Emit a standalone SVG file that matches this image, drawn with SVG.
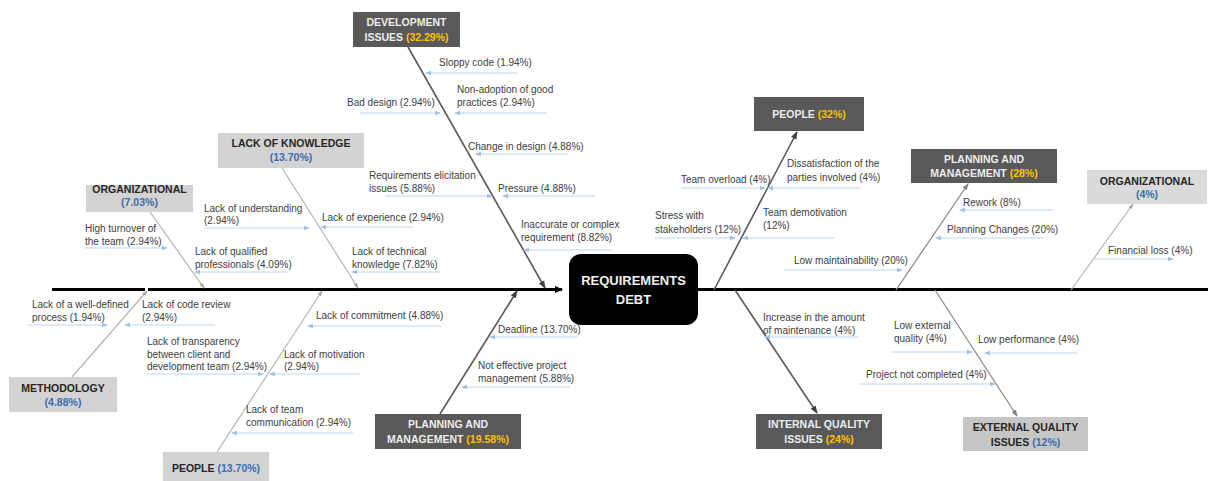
<svg xmlns="http://www.w3.org/2000/svg" width="1208" height="481" viewBox="0 0 1208 481">
  <defs>
    <style>
      .lbl { font-family: "Liberation Sans", Arial, sans-serif; font-size: 10px; fill: #404040; }
      .ttl { font-family: "Liberation Sans", Arial, sans-serif; font-size: 10.5px; font-weight: bold; text-anchor: middle; }
      .dk rect { fill: #595959; }
      .dk .ttl { fill: #ededed; }
      .lt rect { fill: #d3d3d3; }
      .lt .ttl { fill: #262626; }
      .ttl .gold { fill: #ffc000; }
      .ttl.blue, .ttl .blue { fill: #3b6db0; }
      .sub { stroke: #bdd7ee; stroke-width: 1; fill: none; marker-end: url(#ah-sub); }
      .cat-dk { stroke: #595959; stroke-width: 1.6; marker-end: url(#ah-dk); }
      .cat-md { stroke: #8c8c8c; stroke-width: 1.3; marker-end: url(#ah-md); }
      .cat-lt { stroke: #b4b4b4; stroke-width: 1.2; marker-end: url(#ah-lt); }
      .spine { stroke: #000; stroke-width: 3; }
    </style>
    <marker id="ah-sub" markerWidth="6" markerHeight="6" refX="5" refY="3" orient="auto" markerUnits="userSpaceOnUse">
      <path d="M0,0.8 L6,3 L0,5.2 z" fill="#9dc3e6"/>
    </marker>
    <marker id="ah-dk" markerWidth="8" markerHeight="8" refX="7" refY="4" orient="auto" markerUnits="userSpaceOnUse">
      <path d="M0,1 L8,4 L0,7 z" fill="#404040"/>
    </marker>
    <marker id="ah-md" markerWidth="7" markerHeight="7" refX="6" refY="3.5" orient="auto" markerUnits="userSpaceOnUse">
      <path d="M0,1 L7,3.5 L0,6 z" fill="#808080"/>
    </marker>
    <marker id="ah-lt" markerWidth="6" markerHeight="6" refX="5" refY="3" orient="auto" markerUnits="userSpaceOnUse">
      <path d="M0,1 L6,3 L0,5 z" fill="#a6a6a6"/>
    </marker>
    <marker id="ah-spine" markerWidth="8" markerHeight="8" refX="7" refY="4" orient="auto" markerUnits="userSpaceOnUse">
      <path d="M0,0.5 L8,4 L0,7.5 z" fill="#000"/>
    </marker>
  </defs>

  <rect width="1208" height="481" fill="#ffffff"/>

  <!-- backbone, category bones and cause arrows -->
  <g id="connectors">
    <line class="spine" x1="52" y1="289.5" x2="145" y2="289.5"/>
    <line class="spine" x1="148" y1="289.5" x2="562" y2="289.5" marker-end="url(#ah-spine)"/>
    <line class="spine" x1="698" y1="289.5" x2="1208" y2="289.5"/>

    <line class="cat-dk" x1="408" y1="47" x2="545" y2="288"/>
    <line class="cat-lt" x1="282" y1="168" x2="358" y2="288"/>
    <line class="cat-lt" x1="150" y1="212" x2="204" y2="288"/>
    <line class="cat-lt" x1="72" y1="377" x2="147" y2="291"/>
    <line class="cat-lt" x1="217" y1="452" x2="322" y2="291"/>
    <line class="cat-dk" x1="440" y1="414" x2="517" y2="291"/>
    <line class="cat-dk" x1="714" y1="290" x2="797" y2="132"/>
    <line class="cat-md" x1="896" y1="290" x2="968" y2="184"/>
    <line class="cat-lt" x1="1071" y1="290" x2="1133" y2="204"/>
    <line class="cat-dk" x1="735" y1="290" x2="817" y2="413"/>
    <line class="cat-md" x1="935" y1="290" x2="1017" y2="416"/>

    <line class="sub" x1="517" y1="73" x2="426" y2="73"/>
    <line class="sub" x1="360" y1="113" x2="440" y2="113"/>
    <line class="sub" x1="547" y1="113" x2="455" y2="113"/>
    <line class="sub" x1="568" y1="154" x2="476" y2="154"/>
    <line class="sub" x1="385" y1="196" x2="492" y2="196"/>
    <line class="sub" x1="595" y1="196" x2="503" y2="196"/>
    <line class="sub" x1="612" y1="250" x2="524" y2="250"/>
    <line class="sub" x1="204" y1="228" x2="309" y2="228"/>
    <line class="sub" x1="413" y1="227" x2="321" y2="227"/>
    <line class="sub" x1="440" y1="272" x2="352" y2="272"/>
    <line class="sub" x1="287" y1="272" x2="195" y2="272"/>
    <line class="sub" x1="85" y1="248" x2="167" y2="248"/>
    <line class="sub" x1="28" y1="325" x2="107" y2="325"/>
    <line class="sub" x1="215" y1="325" x2="125" y2="325"/>
    <line class="sub" x1="147" y1="374" x2="263" y2="374"/>
    <line class="sub" x1="360" y1="374" x2="270" y2="374"/>
    <line class="sub" x1="442" y1="326" x2="308" y2="326"/>
    <line class="sub" x1="353" y1="433" x2="232" y2="433"/>
    <line class="sub" x1="578" y1="337" x2="490" y2="337"/>
    <line class="sub" x1="570" y1="387" x2="462" y2="387"/>
    <line class="sub" x1="860" y1="188" x2="768" y2="188"/>
    <line class="sub" x1="681" y1="188" x2="765" y2="188"/>
    <line class="sub" x1="834" y1="238" x2="743" y2="238"/>
    <line class="sub" x1="655" y1="238" x2="735" y2="238"/>
    <line class="sub" x1="784" y1="270" x2="902" y2="270"/>
    <line class="sub" x1="1053" y1="210" x2="960" y2="210"/>
    <line class="sub" x1="1043" y1="238" x2="936" y2="238"/>
    <line class="sub" x1="1093" y1="259" x2="1173" y2="259"/>
    <line class="sub" x1="859" y1="337" x2="765" y2="337"/>
    <line class="sub" x1="892" y1="352" x2="972" y2="352"/>
    <line class="sub" x1="1077" y1="353" x2="985" y2="353"/>
    <line class="sub" x1="860" y1="384" x2="995" y2="384"/>
  </g>

  <!-- effect -->
  <g id="requirements-debt">
    <rect x="569" y="254" width="129" height="71" rx="12" fill="#000"/>
    <text x="633.5" y="285" font-family="Liberation Sans, Arial, sans-serif" font-size="13" font-weight="bold" fill="#f2f2f2" text-anchor="middle">REQUIREMENTS</text>
    <text x="633.5" y="304" font-family="Liberation Sans, Arial, sans-serif" font-size="13" font-weight="bold" fill="#f2f2f2" text-anchor="middle">DEBT</text>
  </g>

  <!-- causes: left side -->
  <g id="development-issues" class="dk">
    <rect x="353" y="12" width="107" height="35"/>
    <text class="ttl" x="406.5" y="26">DEVELOPMENT</text>
    <text class="ttl" x="406.5" y="41">ISSUES <tspan class="gold">(32.29%)</tspan></text>
  </g>
  <g id="development-causes">
    <text class="lbl" x="439" y="66">Sloppy code (1.94%)</text>
    <text class="lbl" x="347" y="106">Bad design (2.94%)</text>
    <text class="lbl" x="457" y="93">Non-adoption of good</text>
    <text class="lbl" x="457" y="106">practices (2.94%)</text>
    <text class="lbl" x="468" y="150">Change in design (4.88%)</text>
    <text class="lbl" x="369" y="179">Requirements elicitation</text>
    <text class="lbl" x="369" y="192">issues (5.88%)</text>
    <text class="lbl" x="498" y="192">Pressure (4.88%)</text>
    <text class="lbl" x="521" y="228">Inaccurate or complex</text>
    <text class="lbl" x="521" y="241">requirement (8.82%)</text>
  </g>

  <g id="lack-of-knowledge" class="lt">
    <rect x="218" y="133" width="146" height="35"/>
    <text class="ttl" x="291" y="147">LACK OF KNOWLEDGE</text>
    <text class="ttl blue" x="291" y="161">(13.70%)</text>
  </g>
  <g id="knowledge-causes">
    <text class="lbl" x="204" y="212">Lack of understanding</text>
    <text class="lbl" x="204" y="224">(2.94%)</text>
    <text class="lbl" x="322" y="221">Lack of experience (2.94%)</text>
    <text class="lbl" x="352" y="255">Lack of technical</text>
    <text class="lbl" x="352" y="268">knowledge (7.82%)</text>
  </g>

  <g id="organizational-left" class="lt">
    <rect x="86" y="185" width="107" height="27"/>
    <text class="ttl" x="139.5" y="193">ORGANIZATIONAL</text>
    <text class="ttl blue" x="139.5" y="206">(7.03%)</text>
  </g>
  <g id="organizational-causes">
    <text class="lbl" x="85" y="232">High turnover of</text>
    <text class="lbl" x="85" y="245">the team (2.94%)</text>
    <text class="lbl" x="195" y="255">Lack of qualified</text>
    <text class="lbl" x="195" y="268">professionals (4.09%)</text>
  </g>

  <g id="methodology" class="lt">
    <rect x="9" y="377" width="108" height="35"/>
    <text class="ttl" x="63" y="392">METHODOLOGY</text>
    <text class="ttl blue" x="63" y="406">(4.88%)</text>
  </g>
  <g id="methodology-causes">
    <text class="lbl" x="32" y="308">Lack of a well-defined</text>
    <text class="lbl" x="32" y="321">process (1.94%)</text>
    <text class="lbl" x="142" y="308">Lack of code review</text>
    <text class="lbl" x="142" y="321">(2.94%)</text>
  </g>

  <g id="people-left" class="lt">
    <rect x="163" y="452" width="106" height="32"/>
    <text class="ttl" x="216" y="472">PEOPLE <tspan class="blue">(13.70%)</tspan></text>
  </g>
  <g id="people-left-causes">
    <text class="lbl" x="147" y="345">Lack of transparency</text>
    <text class="lbl" x="147" y="358">between client and</text>
    <text class="lbl" x="147" y="370">development team (2.94%)</text>
    <text class="lbl" x="284" y="358">Lack of motivation</text>
    <text class="lbl" x="284" y="370">(2.94%)</text>
    <text class="lbl" x="316" y="319">Lack of commitment (4.88%)</text>
    <text class="lbl" x="246" y="413">Lack of team</text>
    <text class="lbl" x="246" y="426">communication (2.94%)</text>
  </g>

  <g id="planning-left" class="dk">
    <rect x="375" y="414" width="146" height="35"/>
    <text class="ttl" x="448" y="428">PLANNING AND</text>
    <text class="ttl" x="448" y="443">MANAGEMENT <tspan class="gold">(19.58%)</tspan></text>
  </g>
  <g id="planning-left-causes">
    <text class="lbl" x="498" y="333">Deadline (13.70%)</text>
    <text class="lbl" x="478" y="369">Not effective project</text>
    <text class="lbl" x="478" y="382">management (5.88%)</text>
  </g>

  <!-- consequences: right side -->
  <g id="people-right" class="dk">
    <rect x="754" y="97" width="110" height="34"/>
    <text class="ttl" x="809" y="118">PEOPLE <tspan class="gold">(32%)</tspan></text>
  </g>
  <g id="people-right-effects">
    <text class="lbl" x="787" y="167">Dissatisfaction of the</text>
    <text class="lbl" x="787" y="181">parties involved (4%)</text>
    <text class="lbl" x="681" y="183">Team overload (4%)</text>
    <text class="lbl" x="763" y="216">Team demotivation</text>
    <text class="lbl" x="763" y="229">(12%)</text>
    <text class="lbl" x="655" y="219">Stress with</text>
    <text class="lbl" x="655" y="233">stakeholders (12%)</text>
    <text class="lbl" x="794" y="264">Low maintainability (20%)</text>
  </g>

  <g id="planning-right" class="dk">
    <rect x="911" y="149" width="146" height="34"/>
    <text class="ttl" x="984" y="163">PLANNING AND</text>
    <text class="ttl" x="984" y="177">MANAGEMENT <tspan class="gold">(28%)</tspan></text>
  </g>
  <g id="planning-right-effects">
    <text class="lbl" x="963" y="206">Rework (8%)</text>
    <text class="lbl" x="947" y="233">Planning Changes (20%)</text>
  </g>

  <g id="organizational-right" class="lt">
    <rect x="1087" y="170" width="120" height="34" style="fill:#dadada"/>
    <text class="ttl" x="1147" y="185">ORGANIZATIONAL</text>
    <text class="ttl blue" x="1147" y="198">(4%)</text>
  </g>
  <g id="organizational-right-effects">
    <text class="lbl" x="1108" y="254">Financial loss (4%)</text>
  </g>

  <g id="internal-quality" class="dk">
    <rect x="756" y="414" width="126" height="35"/>
    <text class="ttl" x="819" y="428">INTERNAL QUALITY</text>
    <text class="ttl" x="819" y="443">ISSUES <tspan class="gold">(24%)</tspan></text>
  </g>
  <g id="internal-quality-effects">
    <text class="lbl" x="763" y="321">Increase in the amount</text>
    <text class="lbl" x="763" y="334">of maintenance (4%)</text>
  </g>

  <g id="external-quality" class="lt">
    <rect x="963" y="417" width="125" height="34" style="fill:#c6c6c6"/>
    <text class="ttl" x="1025.5" y="431">EXTERNAL QUALITY</text>
    <text class="ttl" x="1025.5" y="446">ISSUES <tspan class="blue">(12%)</tspan></text>
  </g>
  <g id="external-quality-effects">
    <text class="lbl" x="894" y="329">Low external</text>
    <text class="lbl" x="894" y="342">quality (4%)</text>
    <text class="lbl" x="978" y="343">Low performance (4%)</text>
    <text class="lbl" x="866" y="378">Project not completed (4%)</text>
  </g>
</svg>
